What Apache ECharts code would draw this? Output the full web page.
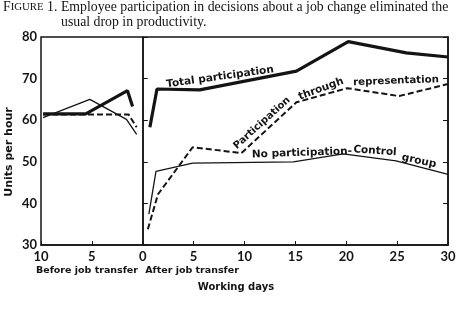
<!DOCTYPE html>
<html>
<head>
<meta charset="utf-8">
<script src="https://cdn.jsdelivr.net/npm/echarts@6/dist/echarts.min.js"></script>
<style>
  html, body { margin: 0; padding: 0; background: #fff; }
  #chart { width: 475px; height: 310px; }
</style>
</head>
<body>
<div id="chart"></div>
<script>
// working days (negative = before job transfer), units per hour
const totalBefore = [[-9.8, 61.5], [-5.6, 61.5], [-1.5, 67.1], [-1.0, 63.3]]
const totalAfter = [[0.7, 58.3], [1.4, 67.5], [5.6, 67.3], [15.1, 71.8], [20.2, 78.9], [25.9, 76.2], [30, 75.2]]
const reprBefore = [[-9.8, 61.4], [-1.4, 61.4], [-0.6, 58.3]]
const reprAfter = [[0.5, 33.8], [1.5, 42.2], [4.9, 53.5], [9.7, 52.1], [15.1, 64.3], [20.1, 67.7], [25.2, 65.8], [30, 68.7]]
const controlBefore = [[-9.8, 60.6], [-5.2, 65.0], [-1.6, 60.2], [-0.6, 56.6]]
const controlAfter = [[0.6, 37.4], [1.3, 47.7], [4.9, 49.7], [14.8, 50.0], [19.7, 51.9], [24.9, 50.2], [30, 47.0]]

const chart = echarts.init(document.getElementById('chart'))

const font = 'Lato, "DejaVu Sans", sans-serif'
const wide = '"DejaVu Sans", sans-serif'
const ink = '#141414'

const bold = { color: ink, width: 3.2 }
const thin = { color: ink, width: 1.3 }
const dash = { color: ink, width: 2, type: [6, 3] }

function line(data, style) {
  return { type: 'line', data: data, symbol: 'none', lineStyle: style, silent: true, z: 3 }
}

// text written along the curves
function note(text, x, y, deg, size) {
  return {
    type: 'text', x: x, y: y, rotation: deg * Math.PI / 180,
    style: { text: text, font: 'bold ' + (size || 10.5) + 'px ' + wide, fill: ink, align: 'center', verticalAlign: 'middle' }
  }
}

const option = {
  animation: false,
  grid: { left: 41, right: 27, top: 37, bottom: 65, show: true, borderColor: ink, borderWidth: 1.5 },
  xAxis: {
    type: 'value', min: -10, max: 30, interval: 5,
    axisLine: { lineStyle: { color: ink, width: 1.5 } },
    axisTick: { inside: true, length: 4, lineStyle: { color: ink } },
    splitLine: { show: false },
    axisLabel: { color: ink, fontFamily: font, fontWeight: 'bold', fontSize: 13, margin: 5,
      formatter: v => String(Math.abs(v)) }
  },
  yAxis: [
    {
      type: 'value', min: 30, max: 80, interval: 10,
      axisLine: { show: true, lineStyle: { color: ink, width: 1.5 } },
      axisTick: { show: true, inside: true, length: 5, lineStyle: { color: ink } },
      splitLine: { show: false },
      axisLabel: { color: ink, fontFamily: font, fontWeight: 'bold', fontSize: 13, margin: 4 }
    },
    {
      type: 'value', min: 30, max: 80, interval: 10, position: 'right',
      axisLine: { show: true, lineStyle: { color: ink, width: 1.5 } },
      axisTick: { show: true, inside: true, length: 5, lineStyle: { color: ink } },
      splitLine: { show: false },
      axisLabel: { show: false }
    }
  ],
  series: [
    Object.assign(line(totalBefore, bold), {
      markLine: { silent: true, symbol: 'none', label: { show: false },
        lineStyle: { color: ink, width: 1.5, type: 'solid' }, data: [{ xAxis: 0 }] }
    }),
    line(totalAfter, bold),
    line(reprBefore, dash),
    line(reprAfter, dash),
    line(controlBefore, thin),
    line(controlAfter, thin)
  ],
  graphic: [
    {
      type: 'text', left: 3, top: 0,
      style: {
        text: '{a|F}{b|IGURE}{a| 1. Employee participation in decisions about a job change eliminated the}',
        rich: {
          a: { font: '13.8px "Liberation Serif", serif', fill: ink },
          b: { font: '10.8px "Liberation Serif", serif', fill: ink }
        }
      }
    },
    { type: 'text', left: 61, top: 15, style: { text: 'usual drop in productivity.', font: '13.8px "Liberation Serif", serif', fill: ink } },
    note('Units per hour', 9, 152, 90, 11),
    note('Before job transfer', 87, 271, 0, 9.5),
    note('After job transfer', 192, 271, 0, 9.5),
    note('Working days', 236, 287, 0, 10),
    note('Total participation', 220, 77, 8),
    note('Participation', 262, 123, 42, 10),
    note('through', 321, 89, 20),
    note('representation', 396, 81, 2, 10.2),
    note('No participation-', 302, 153, 2),
    note('Control', 375, 151, -4),
    note('group', 419, 161, -12)
  ]
}

chart.setOption(option)
</script>
</body>
</html>
